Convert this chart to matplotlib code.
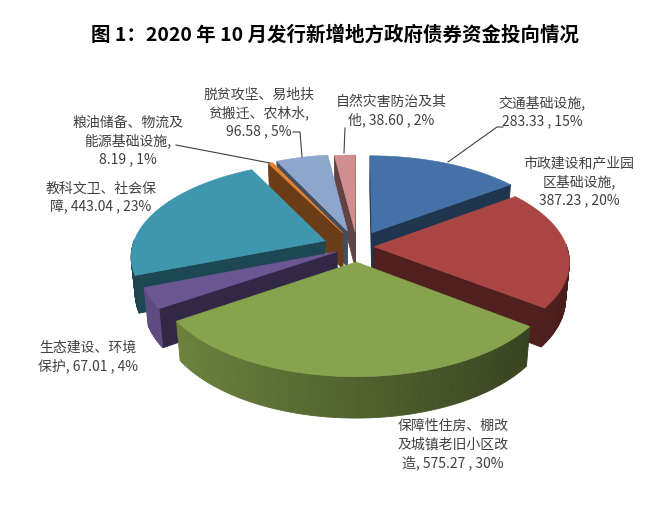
import numpy as np
import matplotlib
matplotlib.use("Agg")
import matplotlib.pyplot as plt
from matplotlib.patches import Polygon
from matplotlib.colors import to_rgb

plt.rcParams['font.family'] = ['Noto Sans CJK SC', 'DejaVu Sans']

# ---------------- data ----------------
title = "图 1：2020 年 10 月发行新增地方政府债券资金投向情况"
categories = ["交通基础设施", "市政建设和产业园区基础设施", "保障性住房、棚改及城镇老旧小区改造",
              "生态建设、环境保护", "教科文卫、社会保障", "粮油储备、物流及能源基础设施",
              "脱贫攻坚、易地扶贫搬迁、农林水", "自然灾害防治及其他"]
values = [283.33, 387.23, 575.27, 67.01, 443.04, 8.19, 96.58, 38.60]
percent_labels = ["15%", "20%", "30%", "4%", "23%", "1%", "5%", "2%"]
# how the category name is wrapped in the label, and separator before the value
label_names = ["交通基础设施", "市政建设和产业园\n区基础设施", "保障性住房、棚改\n及城镇老旧小区改\n造",
               "生态建设、环境\n保护", "教科文卫、社会保\n障", "粮油储备、物流及\n能源基础设施",
               "脱贫攻坚、易地扶\n贫搬迁、农林水", "自然灾害防治及其\n他"]
label_seps = [",\n", ",\n", ", ", ", ", ", ", ",\n", ",\n", ", "]

# ---------------- style ----------------
top_colors = ["#4472A8", "#A94543", "#87A34D", "#6B5592", "#3E97AF", "#E4812F", "#8EA5CC", "#D08E8E"]
side_shade = [0.47, 0.44, None, 0.88, 0.45, 0.42, 0.47, 0.47]   # None -> gradient
explode = [0.173, 0.087, 0.1615, 0.116, 0.179, 0.17, 0.18, 0.166]
label_pos = [(542, 112), (579, 182), (453, 444), (88, 357), (101, 198), (128, 141), (259, 113), (391, 111)]
leaders = [[(448, 162), (497, 127), (503, 127)],
           None, None, None, None,
           [(176, 145), (270, 163)],
           [(293, 132), (300, 132), (302, 157)],
           [(345, 128), (344, 153)]]
text_color = "#404040"

# projection parameters (pixel space)
cx, cy = 357.1, 246.7
F = 192.9
s_el, c_el = 0.479, 0.878
D = 5.85
h = 0.22
cam = np.array([0.0, -D * c_el, D * s_el])


def proj(X, Y, Z):
    X = np.asarray(X, float); Y = np.asarray(Y, float); Z = np.asarray(Z, float)
    w = 1 + (c_el * Y - s_el * Z) / D
    xs = cx + F * X / w
    ys = cy - F * (s_el * Y + c_el * Z) / w
    return np.column_stack([xs, ys])


def shade(col, f):
    r, g, b = to_rgb(col)
    return (min(1, r * f), min(1, g * f), min(1, b * f))


fig = plt.figure(figsize=(6.7, 5.16), dpi=100)
ax = fig.add_axes([0, 0, 1, 1])
ax.set_xlim(0, 670)
ax.set_ylim(516, 0)
ax.axis('off')

vals = np.array(values)
frac = vals / vals.sum()
edges = np.concatenate([[0], np.cumsum(frac)]) * 2 * np.pi

slices = []
for i in range(len(vals)):
    t1, t2 = edges[i], edges[i + 1]
    tm = 0.5 * (t1 + t2)
    e = explode[i]
    ox, oy = e * np.sin(tm), e * np.cos(tm)
    depth = 1 + (c_el * (oy + 0.5 * np.cos(tm))) / D
    slices.append((depth, i, t1, t2, tm, ox, oy))

# draw farthest first
slices.sort(key=lambda s: -s[0])

for depth, i, t1, t2, tm, ox, oy in slices:
    col = top_colors[i]
    n = max(3, int(np.degrees(t2 - t1)) + 2)
    th = np.linspace(t1, t2, n)
    rx = ox + np.sin(th)
    ry = oy + np.cos(th)
    faces = []
    # radial faces
    for t, nrm in ((t1, (-np.cos(t1), np.sin(t1))), (t2, (np.cos(t2), -np.sin(t2)))):
        P = np.array([ox + 0.5 * np.sin(t), oy + 0.5 * np.cos(t), 0])
        if nrm[0] * (cam[0] - P[0]) + nrm[1] * (cam[1] - P[1]) > 0:
            X = [ox, ox + np.sin(t), ox + np.sin(t), ox]
            Y = [oy, oy + np.cos(t), oy + np.cos(t), oy]
            Z = [0, 0, -h, -h]
            faces.append((proj(X, Y, Z), shade(col, 0.47)))
    # curved side (front half)
    for k in range(n - 1):
        m = 0.5 * (th[k] + th[k + 1])
        nx, ny = np.sin(m), np.cos(m)
        if ny < 0.02:
            X = [rx[k], rx[k + 1], rx[k + 1], rx[k]]
            Y = [ry[k], ry[k + 1], ry[k + 1], ry[k]]
            Z = [0, 0, -h, -h]
            f = (0.6 - 0.24 * nx) if side_shade[i] is None else side_shade[i]
            faces.append((proj(X, Y, Z), shade(col, f)))
    for pts, fc in faces:
        ax.add_patch(Polygon(pts, closed=True, facecolor=fc, edgecolor=fc, linewidth=0.6))
    top = proj(np.concatenate([[ox], rx]), np.concatenate([[oy], ry]), np.zeros(n + 1))
    ax.add_patch(Polygon(top, closed=True, facecolor=col, edgecolor=col, linewidth=0.4))

# labels
pitch = 18.5
for i in range(len(vals)):
    txt = f"{label_names[i]}{label_seps[i]}{values[i]:.2f} , {percent_labels[i]}"
    lines = txt.split("\n")
    x0, y0 = label_pos[i]
    ystart = y0 - (len(lines) - 1) * pitch / 2
    for j, ln in enumerate(lines):
        ax.text(x0, ystart + j * pitch, ln, ha='center', va='center', fontsize=10, color=text_color)
    if leaders[i] is not None:
        lx, ly = zip(*leaders[i])
        ax.plot(lx, ly, color=text_color, lw=0.8)

ax.text(335, 35, title, ha='center', va='center', fontsize=14, fontweight='bold', color='black')

fig.savefig("out.png", dpi=100)
